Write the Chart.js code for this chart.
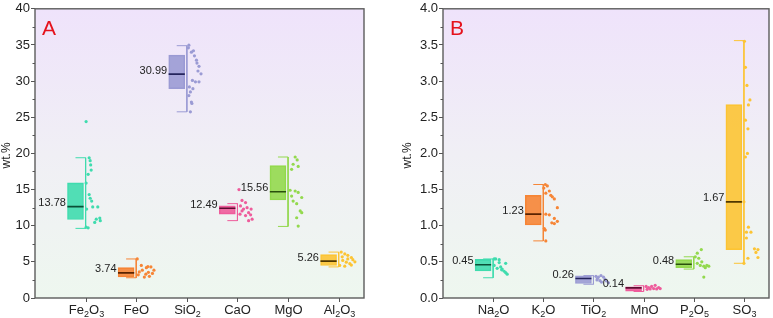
<!DOCTYPE html>
<html><head><meta charset="utf-8">
<script src="https://cdn.jsdelivr.net/npm/chart.js@4/dist/chart.umd.min.js"></script>
<style>
html,body{margin:0;padding:0;background:#fff;width:773px;height:318px;overflow:hidden;}
canvas{position:absolute;top:0;}
#cA{left:0;} #cB{left:400px;}
</style></head><body>
<canvas id="cA" width="370" height="318"></canvas>
<canvas id="cB" width="373" height="318"></canvas>
<script>
// ---------- Panel A data ----------
const catsA = ['Fe2O3','FeO','SiO2','CaO','MgO','Al2O3'];
const q1A  = [10.86, 2.9, 28.95, 11.6, 13.56, 4.5];
const medA = [12.64, 3.47, 30.96, 12.42, 14.7, 5.1];
const q3A  = [15.93, 4.2, 33.6, 12.74, 18.3, 6.0];
const loA  = [9.63, 2.8, 25.75, 10.7, 9.9, 4.3];
const hiA  = [19.4, 5.4, 34.9, 13.05, 19.5, 6.35];
const meanA = ['13.78','3.74','30.99','12.49','15.56','5.26'];
const ptsA = [
  [24.4,19.4,19.0,18.4,17.7,17.1,15.9,14.3,13.8,13.4,12.3,12.6,12.6,10.9,11.05,10.7,10.45,9.7,9.8],
  [5.4,4.5,4.2,4.35,3.85,3.6,3.3,3.0,3.4,3.85,2.9,4.3,3.2,3.55],
  [34.97,34.0,34.2,33.5,32.5,32.05,31.0,30.1,29.9,29.9,29.2,28.95,28.5,28.0,27.1,26.9,25.75,32.9,31.4,34.6],
  [15.0,13.5,13.2,12.74,12.5,12.3,12.05,11.8,11.5,11.4,10.9,10.7,11.6,12.3],
  [19.5,19.1,18.5,18.2,17.8,14.9,14.8,14.6,14.1,13.9,13.4,13.05,12.05,11.8,11.1,9.95],
  [6.35,6.1,5.9,5.6,5.3,5.2,4.95,4.75,4.5,4.4,4.55,5.4,5.7,5.0]
];
const jitA = [
  [0.01,0.07,0.09,0.10,0.11,0.05,0.01,0.07,0.09,0.12,0.02,0.14,0.24,0.21,0.28,0.29,0.18,0.05,0.01],
  [0.02,0.10,0.20,0.23,0.12,0.06,0.19,0.26,0.32,0.35,0.16,0.29,0.04,0.24],
  [0.04,0.09,0.13,0.15,0.20,0.24,0.28,0.11,0.17,0.24,0.05,0.12,0.07,0.04,0.09,0.10,0.07,0.19,0.22,0.03],
  [0.03,0.09,0.16,0.06,0.19,0.12,0.09,0.22,0.26,0.16,0.29,0.22,0.05,0.27],
  [0.14,0.18,0.10,0.20,0.07,0.04,0.14,0.20,0.07,0.27,0.10,0.17,0.24,0.27,0.17,0.20],
  [0.05,0.12,0.18,0.25,0.28,0.08,0.15,0.22,0.02,0.12,0.25,0.18,0.07,0.32]
];
const ticksA = [0,5,10,15,20,25,30,35,40];

// ---------- Panel B data ----------
const catsB = ['Na2O','K2O','TiO2','MnO','P2O5','SO3'];
const q1B  = [0.374, 1.01, 0.20, 0.096, 0.42, 0.67];
const medB = [0.46, 1.16, 0.27, 0.14, 0.466, 1.33];
const q3B  = [0.534, 1.42, 0.305, 0.155, 0.53, 2.675];
const loB  = [0.28, 0.79, 0.19, 0.09, 0.40, 0.48];
const hiB  = [0.54, 1.57, 0.31, 0.17, 0.57, 3.56];
const meanB = ['0.45','1.23','0.26','0.14','0.48','1.67'];
const ptsB = [
  [0.54,0.54,0.53,0.48,0.45,0.43,0.41,0.40,0.37,0.35,0.33,0.49,0.39],
  [1.57,1.55,1.52,1.48,1.45,1.42,1.40,1.37,1.25,1.16,1.15,1.10,1.06,1.03,1.04,0.96,0.94,0.79],
  [0.30,0.29,0.31,0.29,0.25,0.24,0.26,0.235,0.22,0.21,0.27],
  [0.16,0.145,0.16,0.175,0.145,0.125,0.125,0.13,0.12,0.13],
  [0.67,0.62,0.57,0.55,0.50,0.45,0.44,0.45,0.42,0.48,0.44,0.29],
  [3.55,3.19,2.94,2.74,2.67,2.46,2.34,2.0,1.95,1.33,0.98,0.91,0.91,0.83,0.68,0.67,0.63,0.56,0.55,0.48]
];
const jitB = [
  [0.02,0.05,0.12,0.25,0.02,0.15,0.08,0.18,0.22,0.25,0.28,0.12,0.17],
  [0.04,0.08,0.01,0.12,0.05,0.15,0.18,0.22,0.28,0.05,0.12,0.22,0.28,0.22,0.17,0.02,0.04,0.05],
  [0.05,0.10,0.15,0.20,0.07,0.13,0.23,0.26,0.16,0.30,0.08],
  [0.05,0.10,0.16,0.23,0.30,0.13,0.26,0.20,0.07,0.33],
  [0.15,0.07,0.03,0.10,0.16,0.26,0.20,0.13,0.23,0.07,0.30,0.20],
  [0.01,0.03,0.06,0.12,0.09,0.03,0.08,0.07,0.03,0.0,0.09,0.05,0.14,0.05,0.21,0.28,0.24,0.28,0.08,0.0]
];
const ticksB = [0,0.5,1.0,1.5,2.0,2.5,3.0,3.5,4.0];

// ---------- styles ----------
const COLORS = ['#3fdcae','#f68536','#9b9bd4','#ee5c9b','#93d94e','#fcc434'];
const DARK   = ['#0b4f37','#5a2300','#24245c','#5e0c31','#2a500d','#4f3700'];
const FONT = "'Liberation Sans', Arial, sans-serif";

function drawChem(ctx, text, cx, base) {
  const parts = text.split(/(\d+)/).filter(s => s.length);
  const big = '13px ' + FONT, small = '9px ' + FONT;
  let w = 0;
  parts.forEach(p => { ctx.font = /\d/.test(p) ? small : big; w += ctx.measureText(p).width; });
  let x = cx - w / 2;
  ctx.textAlign = 'left'; ctx.textBaseline = 'alphabetic'; ctx.fillStyle = '#222';
  parts.forEach(p => {
    const sub = /\d/.test(p);
    ctx.font = sub ? small : big;
    ctx.fillText(p, x, sub ? base + 3.5 : base);
    x += ctx.measureText(p).width;
  });
}

function makePanel(id, letter, cats, q1, med, q3, lo, hi, means, pts, jit, ticks, minorStep, axisW, padLeft, fmt) {
  const datasets = [];
  datasets.push({
    type: 'bar',
    data: cats.map((c, i) => ({ x: i + 1 - 0.2, y: [q1[i], q3[i]] })),
    backgroundColor: COLORS.map(c => c + 'e6'),
    borderColor: COLORS,
    borderWidth: 1,
    borderSkipped: false,
    barThickness: 16,
    grouped: false,
    order: 3
  });
  cats.forEach((c, i) => {
    datasets.push({
      type: 'line',
      data: [{ x: i + 1 - 0.2, y: hi[i] }, { x: i + 1, y: hi[i] }, { x: i + 1, y: lo[i] }, { x: i + 1 - 0.2, y: lo[i] }],
      borderColor: COLORS[i], borderWidth: 1, pointRadius: 0, fill: false, tension: 0, order: 4
    });
    datasets.push({
      type: 'line',
      data: [{ x: i + 1 - 0.36, y: med[i] }, { x: i + 1 - 0.04, y: med[i] }],
      borderColor: DARK[i], borderWidth: 1.6, pointRadius: 0, fill: false, tension: 0, order: 1
    });
    datasets.push({
      type: 'scatter',
      data: pts[i].map((v, k) => ({ x: i + 1 + jit[i][k], y: v })),
      backgroundColor: COLORS[i], borderWidth: 0, pointRadius: 1.6, order: 2
    });
  });

  const deco = {
    id: 'deco' + id,
    beforeDatasetsDraw(chart) {
      const { ctx, chartArea: a } = chart;
      const g = ctx.createLinearGradient(0, a.top, 0, a.bottom);
      g.addColorStop(0, '#efe3fb');
      g.addColorStop(0.5, '#f0eff5');
      g.addColorStop(1, '#eef7ef');
      ctx.save(); ctx.fillStyle = g; ctx.fillRect(a.left, a.top, a.right - a.left, a.bottom - a.top); ctx.restore();
    },
    afterDraw(chart) {
      const { ctx, chartArea: a, scales } = chart;
      const xs = scales.x, ys = scales.y;
      ctx.save();
      // frame
      ctx.strokeStyle = '#5c5c5c'; ctx.lineWidth = 1.4;
      ctx.strokeRect(a.left, a.top, a.right - a.left, a.bottom - a.top);
      // minor y ticks
      ctx.lineWidth = 1; ctx.strokeStyle = '#555';
      for (let v = ys.min + minorStep; v < ys.max; v += 2 * minorStep) {
        const y = Math.round(ys.getPixelForValue(v)) + 0.5;
        ctx.beginPath(); ctx.moveTo(a.left - 2.5, y); ctx.lineTo(a.left, y); ctx.stroke();
      }
      // category ticks + labels
      cats.forEach((c, i) => {
        const x = Math.round(xs.getPixelForValue(i + 1)) + 0.5;
        ctx.beginPath(); ctx.moveTo(x, a.bottom); ctx.lineTo(x, a.bottom + 4); ctx.stroke();
        drawChem(ctx, c, x, a.bottom + 15.5);
      });
      // value labels
      ctx.font = '11px ' + FONT; ctx.fillStyle = '#222';
      ctx.textAlign = 'right'; ctx.textBaseline = 'alphabetic';
      cats.forEach((c, i) => {
        ctx.fillText(means[i], xs.getPixelForValue(i + 1 - 0.36) - 1.5, ys.getPixelForValue(med[i]) - 0.5);
      });
      // panel letter
      ctx.font = '21px ' + FONT; ctx.fillStyle = '#e5121c'; ctx.textAlign = 'left';
      ctx.fillText(letter, a.left + 7, a.top + 26);
      // y title
      ctx.translate(padLeft, (a.top + a.bottom) / 2 + 2);
      ctx.rotate(-Math.PI / 2);
      ctx.font = '12px ' + FONT; ctx.fillStyle = '#222'; ctx.textAlign = 'center'; ctx.textBaseline = 'middle';
      ctx.fillText('wt.%', 0, 0);
      ctx.restore();
    }
  };

  return new Chart(document.getElementById(id), {
    type: 'bar',
    data: { datasets },
    options: {
      responsive: false, animation: false,
      layout: { padding: { top: 6, right: id === 'cA' ? 6 : 1, bottom: 20, left: 0 } },
      plugins: { legend: { display: false }, tooltip: { enabled: false } },
      scales: {
        x: { type: 'linear', min: 0, max: 6.5, offset: false, display: false },
        y: {
          type: 'linear', min: ticks[0], max: ticks[ticks.length - 1],
          afterBuildTicks: s => { s.ticks = ticks.map(v => ({ value: v })); },
          afterFit: s => { s.width = axisW; },
          ticks: { font: { size: 13, family: FONT }, color: '#222', padding: 1, callback: fmt },
          grid: { display: true, drawOnChartArea: false, drawTicks: true, tickLength: 4, color: '#555' },
          border: { display: false }
        }
      }
    },
    plugins: [deco]
  });
}

makePanel('cA', 'A', catsA, q1A, medA, q3A, loA, hiA, meanA, ptsA, jitA, ticksA, 2.5, 35, 7, v => String(v));
makePanel('cB', 'B', catsB, q1B, medB, q3B, loB, hiB, meanB, ptsB, jitB, ticksB, 0.25, 43, 8, v => Number(v).toFixed(1));
</script>
</body></html>
